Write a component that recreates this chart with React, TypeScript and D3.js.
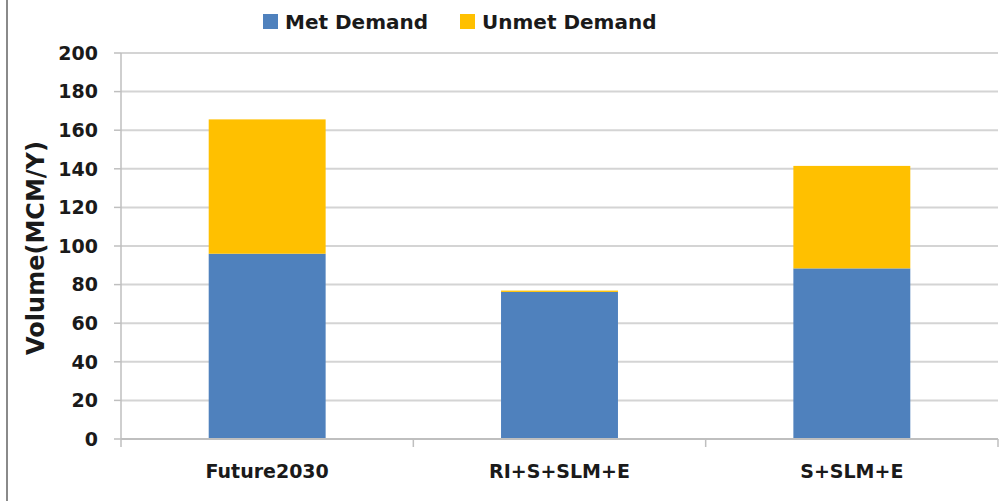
import React from "react";
import * as d3 from "d3";

const categories = ["Future2030", "RI+S+SLM+E", "S+SLM+E"];
const metDemand = [96, 76.2, 88.4];
const unmetDemand = [69.6, 0.7, 53.1];
const seriesNames = ["Met Demand", "Unmet Demand"];
const seriesColors = ["#4F81BD", "#FFC000"];
const yTicks = [0, 20, 40, 60, 80, 100, 120, 140, 160, 180, 200];

const W = 1000;
const H = 501;
const FONT = "'DejaVu Sans', sans-serif";

export default function App() {
  const x = d3
    .scaleBand<string>()
    .domain(categories)
    .range([121, 998])
    .paddingInner(0.6)
    .paddingOuter(0.3);
  const y = d3.scaleLinear().domain([0, 200]).range([439, 53]);

  const rows = categories.map((c, i) => ({ cat: c, met: metDemand[i], unmet: unmetDemand[i] }));
  const stacked = d3.stack<any>().keys(["met", "unmet"])(rows);

  const step = x.step();
  const catEdges = categories.map((c) => (x(c) as number) - x.paddingOuter() * step);
  catEdges.push(998);

  return (
    <svg
      width={W}
      height={H}
      style={{ position: "absolute", left: 0, top: 0, background: "#fff" }}
      fontFamily={FONT}
    >
      <rect x={0} y={0} width={W} height={H} fill="#fff" />
      {/* frame edge on the left */}
      <line x1={7} x2={7} y1={0} y2={H} stroke="#8a8a8a" strokeWidth={2} />

      {/* horizontal gridlines */}
      {yTicks.slice(1).map((t) => (
        <line key={t} x1={121} x2={998} y1={y(t)} y2={y(t)} stroke="#d4d4d4" strokeWidth={2} />
      ))}

      {/* y axis */}
      <line x1={121} x2={121} y1={y(200)} y2={y(0)} stroke="#bfbfbf" strokeWidth={1.5} />
      {yTicks.map((t) => (
        <g key={t}>
          <line x1={114} x2={121} y1={y(t)} y2={y(t)} stroke="#bfbfbf" strokeWidth={1.5} />
          <text
            x={98}
            y={y(t)}
            dy="0.36em"
            textAnchor="end"
            fontSize={19}
            fontWeight="bold"
            fill="#1a1a1a"
          >
            {t}
          </text>
        </g>
      ))}

      {/* bars */}
      {stacked.map((layer, si) =>
        layer.map((d, i) => (
          <rect
            key={`${si}-${i}`}
            x={x(categories[i]) as number}
            width={x.bandwidth()}
            y={y(d[1])}
            height={y(d[0]) - y(d[1])}
            fill={seriesColors[si]}
          />
        ))
      )}

      {/* x axis */}
      <line x1={121} x2={998} y1={y(0)} y2={y(0)} stroke="#bfbfbf" strokeWidth={2} />
      {catEdges.map((e, i) => (
        <line key={i} x1={e} x2={e} y1={y(0)} y2={y(0) + 8} stroke="#bfbfbf" strokeWidth={1.5} />
      ))}
      {categories.map((c) => (
        <text
          key={c}
          x={(x(c) as number) + x.bandwidth() / 2}
          y={471}
          dy="0.36em"
          textAnchor="middle"
          fontSize={19}
          fontWeight="bold"
          fill="#1a1a1a"
        >
          {c}
        </text>
      ))}

      {/* y axis title */}
      <text
        transform={`translate(35,248) rotate(-90)`}
        textAnchor="middle"
        dy="0.36em"
        fontSize={24}
        fontWeight="bold"
        fill="#1a1a1a"
      >
        Volume(MCM/Y)
      </text>

      {/* legend */}
      {seriesNames.map((n, i) => {
        const lx = [263, 460][i];
        return (
          <g key={n}>
            <rect x={lx} y={14} width={15} height={15} fill={seriesColors[i]} />
            <text x={lx + 22} y={21.5} dy="0.36em" fontSize={20} fontWeight="bold" fill="#1a1a1a">
              {n}
            </text>
          </g>
        );
      })}
    </svg>
  );
}
